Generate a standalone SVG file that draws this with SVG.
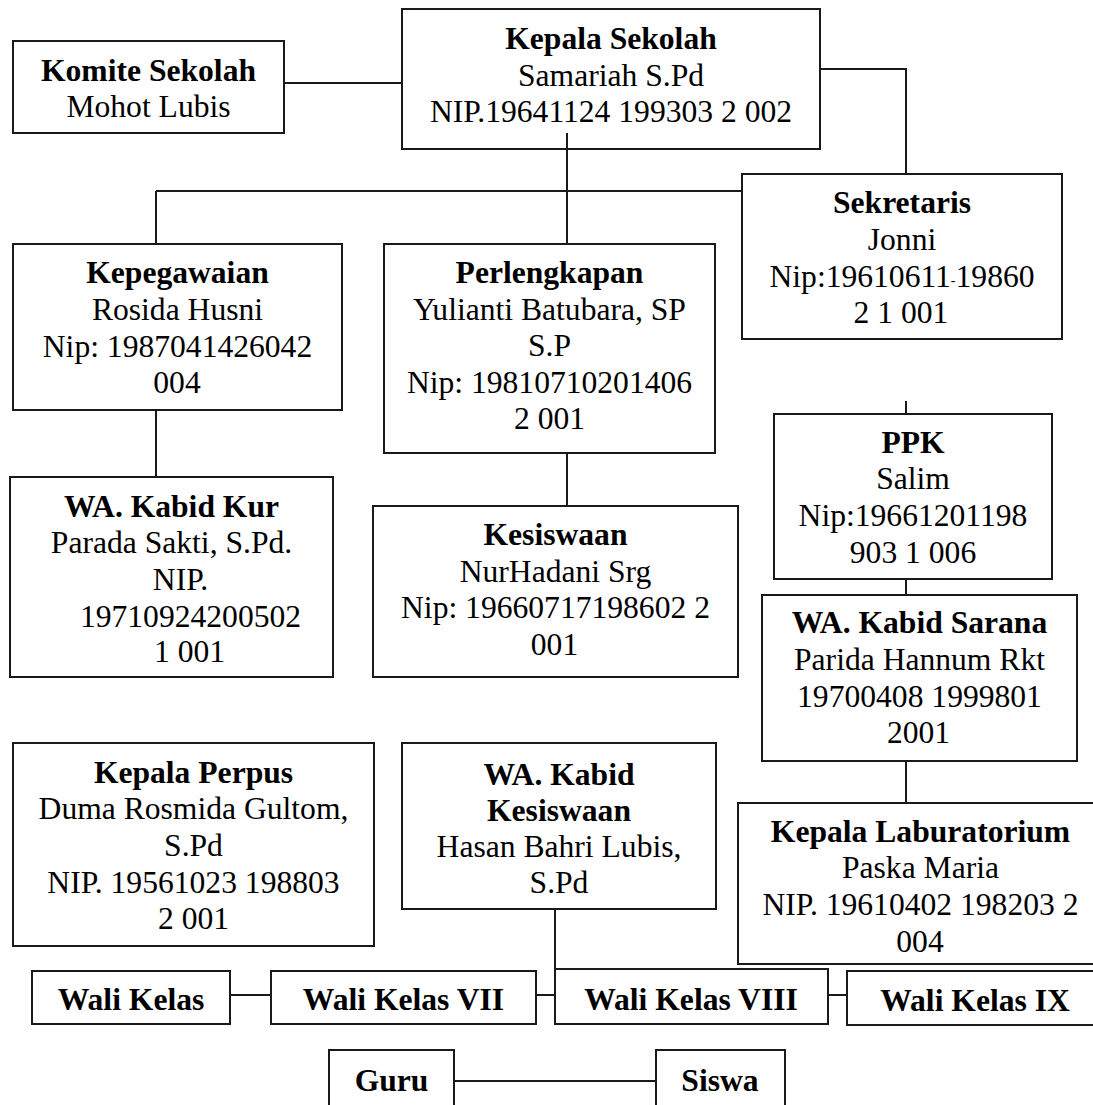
<svg xmlns="http://www.w3.org/2000/svg" width="1093" height="1105" viewBox="0 0 1093 1105">
<style>
.box{fill:#fff;stroke:#1a1a1a;stroke-width:2}
.ln{fill:none;stroke:#1a1a1a;stroke-width:2}
text{font-family:"Liberation Serif","Times New Roman",serif;font-size:31.6px;text-anchor:middle;fill:#000}
.b{font-weight:bold}
</style>
<rect width="1093" height="1105" fill="#fff"/>
<g id="komite">
<rect class="box" x="13" y="41" width="271" height="92"/>
<text class="b" x="148.5" y="81">Komite Sekolah</text>
<text x="148.5" y="117">Mohot Lubis</text>
</g>
<g id="kepala-sekolah">
<rect class="box" x="402" y="9" width="418" height="140"/>
<text class="b" x="611" y="49">Kepala Sekolah</text>
<text x="611" y="86">Samariah S.Pd</text>
<text x="611" y="122">NIP.19641124 199303 2 002</text>
</g>
<g id="sekretaris">
<rect class="box" x="742" y="174" width="320" height="165"/>
<text class="b" x="902" y="213">Sekretaris</text>
<text x="902" y="250">Jonni</text>
<text x="902" y="287">Nip:19610611<tspan font-size="14" dy="-2">-</tspan><tspan dy="2">19860</tspan></text>
<text x="901" y="323">2 1 001</text>
</g>
<g id="kepegawaian">
<rect class="box" x="13" y="244" width="329" height="166"/>
<text class="b" x="177.5" y="283">Kepegawaian</text>
<text x="177.5" y="320">Rosida Husni</text>
<text x="177.5" y="357">Nip: 1987041426042</text>
<text x="177" y="393">004</text>
</g>
<g id="perlengkapan">
<rect class="box" x="384" y="244" width="331" height="209"/>
<text class="b" x="549.5" y="283">Perlengkapan</text>
<text x="549.5" y="320">Yulianti Batubara, SP</text>
<text x="549.5" y="356">S.P</text>
<text x="549.5" y="393">Nip: 19810710201406</text>
<text x="549.5" y="429">2 001</text>
</g>
<g id="wa-kabid-kur">
<rect class="box" x="10" y="477" width="323" height="200"/>
<text class="b" x="171.5" y="517">WA. Kabid Kur</text>
<text x="171.5" y="553">Parada Sakti, S.Pd.</text>
<text x="180.5" y="590">NIP.</text>
<text x="190.5" y="627">19710924200502</text>
<text x="189.5" y="662">1 001</text>
</g>
<g id="kesiswaan">
<rect class="box" x="373" y="506" width="365" height="171"/>
<text class="b" x="555.5" y="545">Kesiswaan</text>
<text x="555.5" y="582">NurHadani Srg</text>
<text x="555.5" y="618">Nip: 19660717198602 2</text>
<text x="554.5" y="655">001</text>
</g>
<g id="ppk">
<rect class="box" x="774" y="414" width="278" height="165"/>
<text class="b" x="913" y="453">PPK</text>
<text x="913" y="489">Salim</text>
<text x="913" y="526">Nip:19661201198</text>
<text x="913" y="563">903 1 006</text>
</g>
<g id="wa-kabid-sarana">
<rect class="box" x="762" y="595" width="315" height="166"/>
<text class="b" x="919.5" y="633">WA. Kabid Sarana</text>
<text x="919.5" y="670">Parida Hannum Rkt</text>
<text x="919.5" y="707">19700408 1999801</text>
<text x="918.5" y="743">2001</text>
</g>
<g id="kepala-perpus">
<rect class="box" x="13" y="743" width="361" height="203"/>
<text class="b" x="193.5" y="783">Kepala Perpus</text>
<text x="193.5" y="819">Duma Rosmida Gultom,</text>
<text x="193.5" y="856">S.Pd</text>
<text x="193.5" y="893">NIP. 19561023 198803</text>
<text x="193.5" y="929">2 001</text>
</g>
<g id="wa-kabid-kesiswaan">
<rect class="box" x="402" y="743" width="314" height="166"/>
<text class="b" x="559" y="785">WA. Kabid</text>
<text class="b" x="559" y="821">Kesiswaan</text>
<text x="559" y="857">Hasan Bahri Lubis,</text>
<text x="559" y="893">S.Pd</text>
</g>
<g id="kepala-laboratorium">
<rect class="box" x="738" y="803" width="366" height="161"/>
<text class="b" x="920.5" y="842">Kepala Laburatorium</text>
<text x="920.5" y="878">Paska Maria</text>
<text x="920.5" y="915">NIP. 19610402 198203 2</text>
<text x="920" y="952">004</text>
</g>
<g id="wali-kelas">
<rect class="box" x="32" y="971" width="198" height="53"/>
<text class="b" x="131" y="1010">Wali Kelas</text>
</g>
<g id="wali-kelas-vii">
<rect class="box" x="271" y="971" width="265" height="53"/>
<text class="b" x="403.5" y="1010">Wali Kelas VII</text>
</g>
<g id="wali-kelas-viii">
<rect class="box" x="555" y="969" width="273" height="55"/>
<text class="b" x="691" y="1010">Wali Kelas VIII</text>
</g>
<g id="wali-kelas-ix">
<rect class="box" x="847" y="971" width="260" height="54"/>
<text class="b" x="975" y="1011">Wali Kelas IX</text>
</g>
<g id="guru">
<rect class="box" x="329" y="1050" width="125" height="62"/>
<text class="b" x="391.5" y="1091">Guru</text>
</g>
<g id="siswa">
<rect class="box" x="656" y="1050" width="129" height="62"/>
<text class="b" x="720" y="1091">Siswa</text>
</g>
<g id="connectors">
<path class="ln" d="M284 83H402"/>
<path class="ln" d="M820 69H906V174"/>
<path class="ln" d="M567 133V244"/>
<path class="ln" d="M156 191H742"/>
<path class="ln" d="M156 191V244"/>
<path class="ln" d="M156 410V477"/>
<path class="ln" d="M567 453V506"/>
<path class="ln" d="M906 401V414"/>
<path class="ln" d="M906 579V595"/>
<path class="ln" d="M906 761V803"/>
<path class="ln" d="M555 909V969"/>
<path class="ln" d="M230 995H271"/>
<path class="ln" d="M536 995H555"/>
<path class="ln" d="M828 995H847"/>
<path class="ln" d="M454 1081H656"/>
</g>
</svg>
